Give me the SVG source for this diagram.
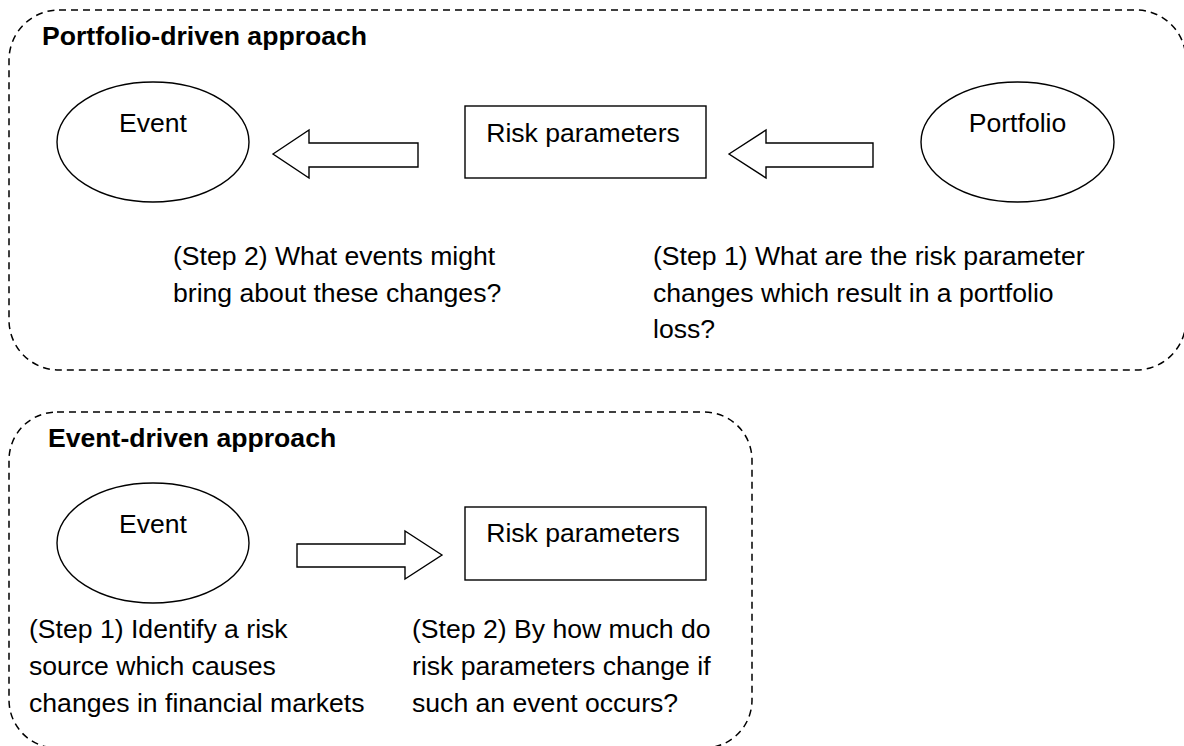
<svg xmlns="http://www.w3.org/2000/svg" width="1184" height="746" viewBox="0 0 1184 746">
<style>
.frame{fill:none;stroke:#000;stroke-width:1.5;stroke-dasharray:7 5}
.shape{fill:#fff;stroke:#000;stroke-width:1.4}
.arrow{fill:#fff;stroke:#000;stroke-width:1.4;stroke-linejoin:miter}
text{font-family:"Liberation Sans",Arial,sans-serif;font-size:26.6px;fill:#000}
.title{font-weight:bold}
.c{text-anchor:middle}
</style>
<rect width="1184" height="746" fill="#fff"/>
<g id="portfolio-driven">
<rect class="frame" x="9" y="10" width="1177" height="360" rx="50" ry="50"/>
<text class="title" x="42" y="45">Portfolio-driven approach</text>
</g>
<g id="event-driven">
<rect class="frame" x="9" y="412" width="743" height="336" rx="48" ry="48"/>
<text class="title" x="48" y="447">Event-driven approach</text>
</g>
<g id="p-event">
<ellipse class="shape" cx="153" cy="142" rx="96" ry="60"/>
<text class="c" x="153" y="132">Event</text>
</g>
<g id="p-risk">
<rect class="shape" x="465" y="106" width="241" height="72"/>
<text class="c" x="583" y="142">Risk parameters</text>
</g>
<g id="p-portfolio">
<ellipse class="shape" cx="1017.5" cy="142" rx="96.5" ry="60"/>
<text class="c" x="1017.5" y="132">Portfolio</text>
</g>
<g id="p-step2">
<text x="173" y="265">(Step 2) What events might</text>
<text x="173" y="302">bring about these changes?</text>
</g>
<g id="p-step1">
<text x="653" y="265">(Step 1) What are the risk parameter</text>
<text x="653" y="302">changes which result in a portfolio</text>
<text x="653" y="338">loss?</text>
</g>
<g id="e-event">
<ellipse class="shape" cx="153" cy="543" rx="96" ry="60"/>
<text class="c" x="153" y="533">Event</text>
</g>
<g id="e-risk">
<rect class="shape" x="465" y="507" width="241" height="73"/>
<text class="c" x="583" y="542">Risk parameters</text>
</g>
<g id="e-step1">
<text x="29" y="638">(Step 1) Identify a risk</text>
<text x="29" y="675">source which causes</text>
<text x="29" y="712">changes in financial markets</text>
</g>
<g id="e-step2">
<text x="412" y="638">(Step 2) By how much do</text>
<text x="412" y="675">risk parameters change if</text>
<text x="412" y="712">such an event occurs?</text>
</g>
<g id="connectors">
<polygon class="arrow" points="273,154 309,130 309,143 418,143 418,167 309,167 309,178"/>
<polygon class="arrow" points="729,154 766,130 766,143 873,143 873,167 766,167 766,178"/>
<polygon class="arrow" points="442,555 405,531 405,544 297,544 297,567 405,567 405,579"/>
</g>
</svg>
